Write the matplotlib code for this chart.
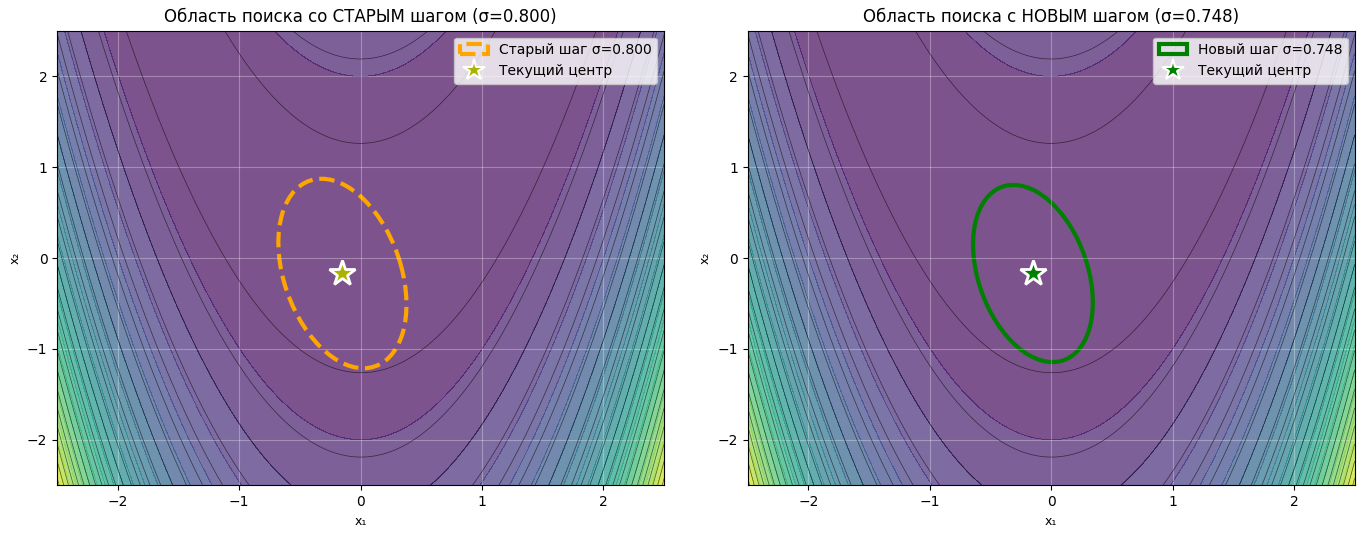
import numpy as np
import matplotlib
matplotlib.use("Agg")
import matplotlib.pyplot as plt
from matplotlib.patches import Ellipse
from matplotlib.lines import Line2D

CENTER = (-0.15, -0.17)
SIGMAS = [0.800, 0.748]
TITLES = ["Область поиска со СТАРЫМ шагом (σ=0.800)",
          "Область поиска с НОВЫМ шагом (σ=0.748)"]
LABELS = ["Старый шаг σ=0.800", "Новый шаг σ=0.748"]
COLORS = ["orange", "green"]
STYLES = ["--", "-"]
STAR_COLORS = ["#aab400", "green"]
# ellipse semi-axes at sigma=0.8 and rotation (deg)
SEMI_A, SEMI_B, ANGLE = 1.06, 0.49, 102

x = np.linspace(-2.5, 2.5, 400)
X1, X2 = np.meshgrid(x, x)
F = 100 * (X2 - X1**2) ** 2 + (1 - X1) ** 2

fig, axes = plt.subplots(1, 2, figsize=(13.63, 5.36), dpi=100)
for i, ax in enumerate(axes):
    ax.contourf(X1, X2, F, levels=24, cmap="viridis", alpha=0.7)
    ax.contour(X1, X2, F, levels=np.arange(160, 8000, 320), colors="black",
               linewidths=0.5, alpha=0.6)
    s = SIGMAS[i] / 0.8
    ell = Ellipse(CENTER, 2 * SEMI_A * s, 2 * SEMI_B * s, angle=ANGLE,
                  fill=False, edgecolor=COLORS[i], linestyle=STYLES[i], lw=3)
    ax.add_patch(ell)
    ax.plot(*CENTER, marker="*", color=STAR_COLORS[i], markersize=19,
            markeredgecolor="white", markeredgewidth=2, linestyle="none")
    ax.set_xlim(-2.5, 2.5)
    ax.set_ylim(-2.5, 2.5)
    ax.set_title(TITLES[i], fontsize=12)
    ax.set_xlabel("x₁", fontsize=9)
    ax.set_ylabel("x₂", fontsize=9)
    ax.grid(True, color="white", alpha=0.3)
    handles = [
        plt.Rectangle((0, 0), 1, 1, fill=False, edgecolor=COLORS[i],
                      linestyle=STYLES[i], lw=3),
        Line2D([], [], marker="*", color=STAR_COLORS[i], markersize=16,
               markeredgecolor="white", markeredgewidth=1.5, linestyle="none"),
    ]
    ax.legend(handles, [LABELS[i], "Текущий центр"], loc="upper right")

fig.tight_layout(pad=0.6, w_pad=2.5)
fig.savefig("out.png")
